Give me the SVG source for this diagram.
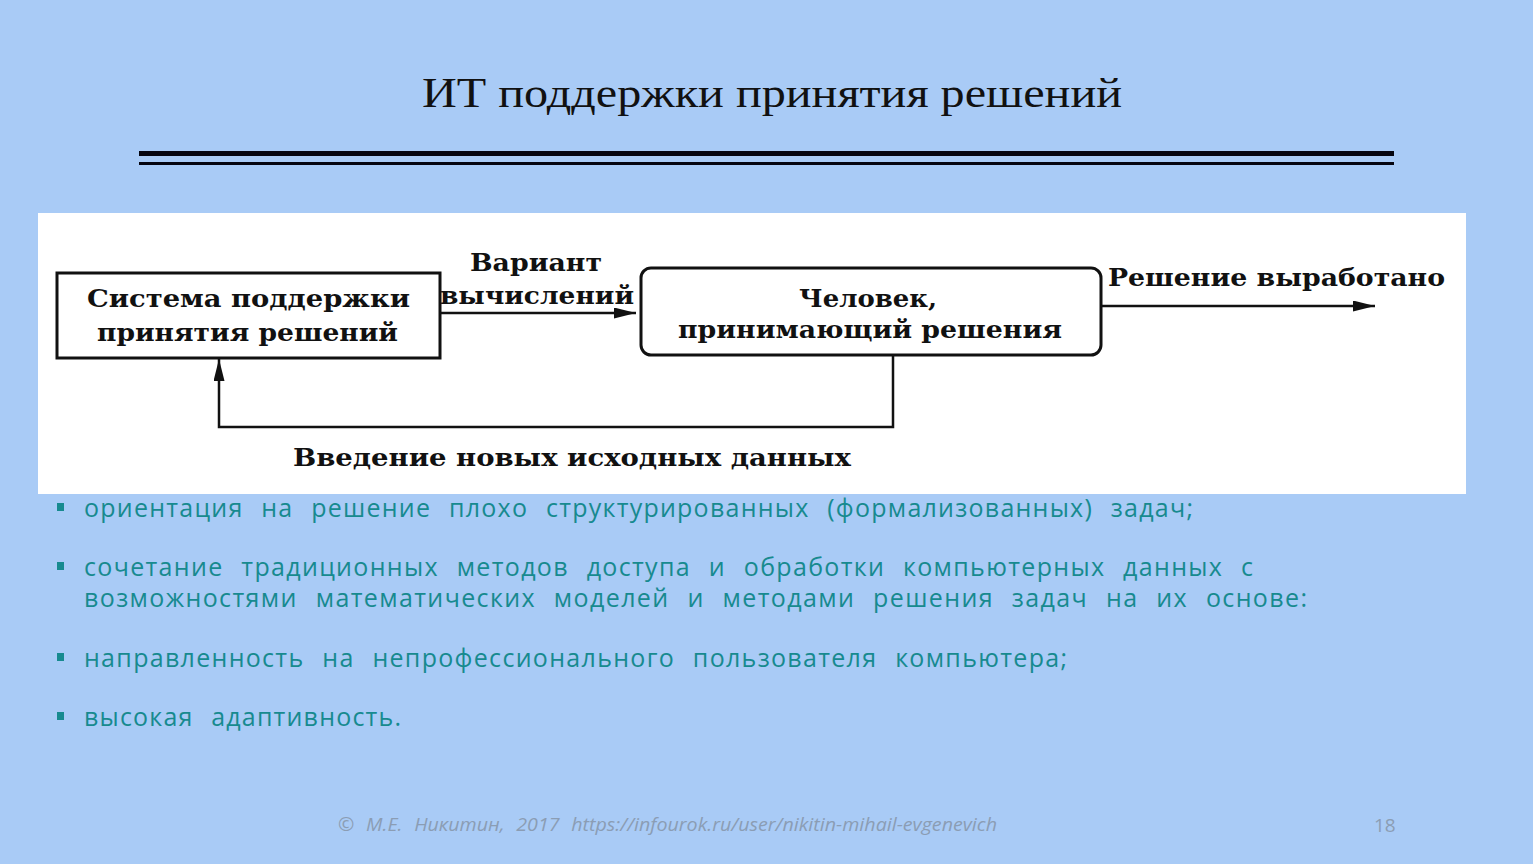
<svg xmlns="http://www.w3.org/2000/svg" width="1533" height="864" viewBox="0 0 1533 864">
<defs>
<style>
.bg{fill:#a9cbf6}
.title{font-family:"Liberation Serif","DejaVu Serif",serif;font-size:42px;fill:#111}
.dg{font-family:"DejaVu Serif","Liberation Serif",serif;font-size:24px;fill:#111;font-weight:bold}
.box{fill:#fff;stroke:#111;stroke-width:3}
.conn{fill:none;stroke:#111;stroke-width:2.5}
.bul{font-family:"Open Sans","Noto Sans",sans-serif;font-size:25px;fill:#178a8f}
.sq{fill:#178a8f}
.foot{font-family:"Open Sans","Noto Sans",sans-serif;font-size:18px;fill:#8b9db4;font-style:italic}
.pg{font-family:"Open Sans","Noto Sans",sans-serif;font-size:19px;fill:#8b9db4}
</style>
<marker id="ahL" viewBox="0 0 10 10" refX="10" refY="5" markerWidth="22" markerHeight="11" markerUnits="userSpaceOnUse" orient="auto" preserveAspectRatio="none">
<path d="M0,0 L10,5 L0,10 z" fill="#111"/>
</marker>
</defs>
<rect class="bg" x="0" y="0" width="1533" height="864"/>
<g id="title">
<text class="title" x="772" y="107" text-anchor="middle" textLength="700" lengthAdjust="spacingAndGlyphs">ИТ поддержки принятия решений</text>
<rect x="139" y="151" width="1255" height="5" fill="#050510"/>
<rect x="139" y="162" width="1255" height="3" fill="#050510"/>
</g>
<rect x="38" y="213" width="1428" height="281" fill="#fff"/>
<g id="node-dss">
<rect class="box" x="57" y="273" width="383" height="85"/>
<text class="dg" x="87" y="307" textLength="323" lengthAdjust="spacingAndGlyphs">Система поддержки</text>
<text class="dg" x="97" y="341" textLength="301" lengthAdjust="spacingAndGlyphs">принятия решений</text>
</g>
<g id="node-human">
<rect class="box" x="641" y="268" width="460" height="87" rx="10" ry="10"/>
<text class="dg" x="799" y="307" textLength="138" lengthAdjust="spacingAndGlyphs">Человек,</text>
<text class="dg" x="678" y="338" textLength="384" lengthAdjust="spacingAndGlyphs">принимающий решения</text>
</g>
<g id="connectors">
<line class="conn" x1="440" y1="313" x2="636" y2="313" marker-end="url(#ahL)"/>
<line class="conn" x1="1101" y1="306" x2="1375" y2="306" marker-end="url(#ahL)"/>
<polyline class="conn" points="893,355 893,427 219,427 219,359" marker-end="url(#ahL)"/>
<text class="dg" x="470" y="271" textLength="132" lengthAdjust="spacingAndGlyphs">Вариант</text>
<text class="dg" x="440" y="304" textLength="194" lengthAdjust="spacingAndGlyphs">вычислений</text>
<text class="dg" x="1108" y="286" textLength="337" lengthAdjust="spacingAndGlyphs">Решение выработано</text>
<text class="dg" x="293" y="466" textLength="558" lengthAdjust="spacingAndGlyphs">Введение новых исходных данных</text>
</g>
<g id="bullets">
<rect class="sq" x="57" y="503" width="7" height="8"/>
<text class="bul" x="84" y="517" textLength="1109" lengthAdjust="spacing" word-spacing="10">ориентация на решение плохо структурированных (формализованных) задач;</text>
<rect class="sq" x="57" y="562" width="7" height="8"/>
<text class="bul" x="84" y="576" textLength="1169" lengthAdjust="spacing" word-spacing="10">сочетание традиционных методов доступа и обработки компьютерных данных с</text>
<text class="bul" x="84" y="607" textLength="1223" lengthAdjust="spacing" word-spacing="10">возможностями математических моделей и методами решения задач на их основе:</text>
<rect class="sq" x="57" y="653" width="7" height="8"/>
<text class="bul" x="84" y="667" textLength="983" lengthAdjust="spacing" word-spacing="10">направленность на непрофессионального пользователя компьютера;</text>
<rect class="sq" x="57" y="712" width="7" height="8"/>
<text class="bul" x="84" y="726" textLength="317" lengthAdjust="spacing" word-spacing="10">высокая адаптивность.</text>
</g>
<g id="footer">
<text class="foot" x="338" y="831" textLength="659" lengthAdjust="spacingAndGlyphs" word-spacing="6">©  М.Е.  Никитин, 2017  https://infourok.ru/user/nikitin-mihail-evgenevich</text>
<text class="pg" x="1374" y="832">18</text>
</g>
</svg>
